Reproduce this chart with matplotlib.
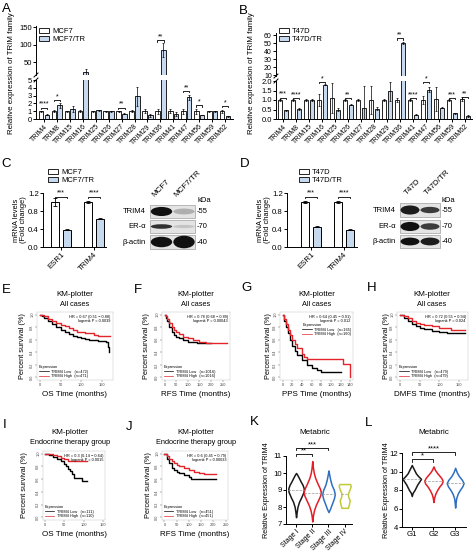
import numpy as np
import matplotlib.pyplot as plt
from matplotlib.patches import Rectangle, Ellipse, Patch
from matplotlib.lines import Line2D

plt.rcParams['font.family'] = ['Liberation Sans', 'DejaVu Sans']

W, H = 474, 555
TR_BLUE = '#c6d9ef'
KM_RED = '#e3242b'

# ============================= DATA
trim_genes = ["TRIM4", "TRIM8", "TRIM15", "TRIM16", "TRIM25", "TRIM26", "TRIM27",
              "TRIM28", "TRIM29", "TRIM36", "TRIM41", "TRIM47", "TRIM56", "TRIM59", "TRIM62"]

# A: MCF7 vs MCF7/TR
a_ctrl = [1.0, 1.0, 1.0, 1.0, 1.0, 1.0, 1.0, 1.0, 1.0, 1.0, 1.0, 1.0, 1.0, 1.0, 1.0]
a_ctrl_err = [0.08, 0.1, 0.05, 0.1, 0.05, 0.05, 0.05, 0.1, 0.25, 0.3, 0.25, 0.3, 0.3, 0.05, 0.2]
a_tr = [0.55, 1.75, 1.3, 21, 1.1, 1.0, 0.7, 2.9, 0.45, 85, 0.6, 2.8, 0.5, 1.0, 0.35]
a_tr_err = [0.05, 0.3, 0.4, 10, 0.1, 0.05, 0.05, 1.2, 0.15, 20, 0.25, 0.3, 0.05, 0.05, 0.05]
a_sig_lo = [(0, "****", 1.45), (1, "*", 2.4), (6, "**", 1.45), (11, "**", 3.55),
            (12, "*", 1.75), (14, "*", 1.65)]
a_sig_up = [(9, "**", 112)]

# B: T47D vs T47D/TR
b_ctrl = [1.0, 1.0, 1.0, 1.0, 1.1, 1.0, 1.0, 1.0, 1.0, 1.0, 1.0, 1.0, 1.05, 1.0, 1.05]
b_ctrl_err = [0.05, 0.03, 0.05, 0.3, 0.8, 0.05, 0.05, 0.75, 0.05, 0.1, 0.05, 0.2, 0.65, 0.05, 0.1]
b_tr = [0.45, 0.55, 1.0, 1.8, 0.5, 0.75, 0.6, 0.55, 1.45, 50, 0.22, 1.55, 0.6, 0.3, 0.15]
b_tr_err = [0.03, 0.05, 0.05, 0.03, 0.1, 0.02, 1.15, 0.1, 0.5, 1.5, 0.03, 0.15, 0.03, 0.03, 0.05]
b_sig_lo = [(0, "***", 1.12), (1, "****", 1.1), (3, "*", 1.95), (5, "**", 1.1),
            (10, "****", 1.1), (11, "*", 1.95), (13, "***", 1.1), (14, "**", 1.15)]
b_sig_up = [(9, "**", 56)]

# C / D: qPCR
mrna_genes = ["ESR1", "TRIM4"]
c_ctrl = [1.0, 1.0]
c_ctrl_err = [0.08, 0.02]
c_tr = [0.38, 0.63]
c_tr_err = [0.01, 0.01]
c_sig = ["***", "****"]
d_ctrl = [1.0, 1.0]
d_ctrl_err = [0.03, 0.02]
d_tr = [0.45, 0.38]
d_tr_err = [0.01, 0.01]
d_sig = ["***", "****"]

# western blots (rows: TRIM4, ER-a, b-actin ; lanes: parental, TR)
blot_rows = ["TRIM4", "ER-α", "β-actin"]
blot_kda = ["55", "70", "40"]
c_band_dark = [[1.0, 0.25], [0.85, 0.15], [1.0, 1.0]]
c_band_h = [[0.7, 0.45], [0.35, 0.25], [0.75, 0.9]]
d_band_dark = [[0.95, 0.8], [1.0, 0.8], [1.0, 0.95]]
d_band_h = [[0.65, 0.45], [0.7, 0.5], [0.6, 0.6]]

# KM curves (time in months, survival fraction)
e_low_t = [0, 5, 10, 20, 30, 40, 50, 60, 70, 80, 90, 100, 110, 120, 130, 140, 150, 160, 165, 168]
e_low_s = [1.0, 0.98, 0.95, 0.9, 0.85, 0.8, 0.76, 0.72, 0.69, 0.66, 0.64, 0.62, 0.61, 0.6, 0.59,
           0.58, 0.58, 0.57, 0.48, 0.4]
e_high_t = [0, 5, 10, 20, 30, 40, 50, 60, 70, 80, 90, 100, 110, 120, 130, 140, 160, 170]
e_high_s = [1.0, 0.99, 0.97, 0.93, 0.9, 0.87, 0.84, 0.81, 0.78, 0.75, 0.73, 0.72, 0.71, 0.7,
            0.67, 0.66, 0.66, 0.66]

f_low_t = [0, 5, 10, 20, 30, 40, 50, 60, 80, 100, 120, 140, 160, 200]
f_low_s = [1.0, 0.95, 0.9, 0.8, 0.73, 0.68, 0.65, 0.62, 0.59, 0.57, 0.56, 0.555, 0.55, 0.55]
f_high_t = [0, 5, 10, 20, 30, 40, 50, 60, 80, 100, 120, 150, 180, 220, 270]
f_high_s = [1.0, 0.97, 0.93, 0.86, 0.8, 0.76, 0.72, 0.69, 0.65, 0.62, 0.6, 0.57, 0.555, 0.55, 0.55]

g_low_t = [0, 3, 6, 10, 15, 20, 25, 30, 40, 50, 60, 70, 80, 100, 120]
g_low_s = [1.0, 0.9, 0.8, 0.7, 0.6, 0.5, 0.42, 0.35, 0.27, 0.2, 0.15, 0.12, 0.08, 0.08, 0.08]
g_high_t = [0, 3, 6, 10, 15, 20, 25, 30, 40, 45, 50, 120, 125, 138, 140]
g_high_s = [1.0, 0.93, 0.85, 0.76, 0.68, 0.6, 0.53, 0.47, 0.38, 0.33, 0.3, 0.3, 0.22, 0.22, 0.0]

h_low_t = [0, 10, 20, 30, 40, 50, 60, 80, 100, 120, 140, 165]
h_low_s = [1.0, 0.95, 0.9, 0.85, 0.82, 0.79, 0.77, 0.74, 0.72, 0.71, 0.7, 0.7]
h_high_t = [0, 10, 20, 30, 40, 50, 60, 80, 100, 120, 130, 150, 165]
h_high_s = [1.0, 0.97, 0.94, 0.9, 0.87, 0.85, 0.83, 0.81, 0.79, 0.78, 0.76, 0.75, 0.75]

i_low_t = [0, 10, 20, 30, 40, 50, 55, 60, 65, 70, 75, 90, 95, 110]
i_low_s = [1.0, 0.98, 0.95, 0.92, 0.88, 0.83, 0.8, 0.76, 0.72, 0.68, 0.62, 0.62, 0.57, 0.57]
i_high_t = [0, 20, 30, 40, 50, 60, 80, 100, 110]
i_high_s = [1.0, 0.98, 0.96, 0.93, 0.91, 0.89, 0.88, 0.88, 0.88]

j_low_t = [0, 10, 20, 30, 40, 50, 60, 80, 100, 110, 120, 150, 210]
j_low_s = [1.0, 0.92, 0.85, 0.78, 0.74, 0.71, 0.69, 0.66, 0.63, 0.6, 0.6, 0.6, 0.6]
j_high_t = [0, 10, 20, 30, 40, 50, 60, 80, 100, 120, 140, 160, 210]
j_high_s = [1.0, 0.96, 0.92, 0.88, 0.85, 0.82, 0.8, 0.77, 0.74, 0.71, 0.69, 0.68, 0.68]

# K / L violins (profile: y values and relative widths)
k_groups = ["Stage I", "Stage II", "Stage III", "Stage IV"]
k_coords = [[7.4, 7.7, 8.0, 8.3, 8.6, 8.9, 9.1, 9.3, 9.5, 9.7, 9.9, 10.0],
            [7.15, 7.5, 7.8, 8.1, 8.4, 8.7, 8.9, 9.1, 9.4, 9.7, 10.0, 10.3, 10.7],
            [7.7, 7.9, 8.2, 8.5, 8.75, 9.0, 9.3, 9.6, 9.9, 10.15],
            [7.95, 8.0, 8.2, 8.4, 8.6, 8.8, 9.0, 9.2, 9.3, 9.35]]
k_vals = [[0.0, 0.08, 0.18, 0.38, 0.7, 0.98, 1.0, 0.85, 0.6, 0.38, 0.15, 0.0],
          [0.0, 0.08, 0.2, 0.4, 0.68, 0.95, 1.0, 0.88, 0.6, 0.35, 0.18, 0.08, 0.0],
          [0.0, 0.25, 0.55, 0.85, 1.0, 0.85, 0.5, 0.28, 0.12, 0.0],
          [0.55, 0.6, 0.75, 0.85, 0.6, 0.55, 0.8, 1.0, 1.0, 0.9]]
k_medians = [9.0, 8.85, 8.75, 8.75]
k_sig = [(0, 1, "**", 11.1), (0, 2, "***", 11.45)]

l_groups = ["G1", "G2", "G3"]
l_coords = [[7.35, 7.7, 8.0, 8.3, 8.6, 8.9, 9.2, 9.5, 9.8, 10.1, 10.4, 10.7],
            [6.7, 7.2, 7.6, 8.0, 8.4, 8.7, 9.0, 9.3, 9.6, 9.9, 10.2, 10.55],
            [6.1, 6.6, 7.1, 7.6, 8.0, 8.4, 8.75, 9.1, 9.5, 9.9, 10.4]]
l_vals = [[0.0, 0.1, 0.3, 0.45, 0.6, 0.8, 1.0, 0.7, 0.45, 0.3, 0.15, 0.0],
          [0.0, 0.08, 0.2, 0.4, 0.65, 0.9, 1.0, 0.85, 0.6, 0.35, 0.15, 0.0],
          [0.0, 0.05, 0.12, 0.3, 0.55, 0.85, 1.0, 0.8, 0.45, 0.2, 0.0]]
l_medians = [9.2, 9.0, 8.75]
l_sig = [(0, 1, "*", 11.3), (0, 2, "****", 12.1)]

violin_colors = ['#1a1a1a', '#e41e26', '#2f6fc1', '#c2c93a']

# ============================= FIGURE
fig = plt.figure(figsize=(W / 100, H / 100), dpi=100)


def fx(x):
    return x / W


def fy(y):
    return 1 - y / H


def px_axes(x0, y0, x1, y1):
    return fig.add_axes([x0 / W, 1 - y1 / H, (x1 - x0) / W, (y1 - y0) / H])


def ftext(x, y, s, **kw):
    kw.setdefault('ha', 'center')
    kw.setdefault('va', 'center')
    return fig.text(fx(x), fy(y), s, **kw)


def prism_style(ax, fs=5.5):
    ax.spines['top'].set_visible(False)
    ax.spines['right'].set_visible(False)
    for s in ax.spines.values():
        s.set_linewidth(0.7)
    ax.tick_params(direction='out', length=2, width=0.7, labelsize=fs, pad=1)


def bracket(ax, x1, x2, y, text, h, fs=5.0):
    ax.plot([x1, x1, x2, x2], [y - h, y, y, y - h], color='black', lw=0.6, clip_on=False)
    ax.text((x1 + x2) / 2, y, text, ha='center', va='bottom', fontsize=fs, clip_on=False)


def slash(xp, yp):
    fig.add_artist(Line2D([fx(xp - 2), fx(xp + 2)], [fy(yp + 2), fy(yp - 2)],
                          transform=fig.transFigure, color='black', lw=0.7))


def bar_legend(labels, x, y, fs=5.5):
    handles = [Patch(facecolor='white', edgecolor='black', lw=0.6),
               Patch(facecolor=TR_BLUE, edgecolor='black', lw=0.6)]
    fig.legend(handles, labels, loc='upper left', bbox_to_anchor=(fx(x), fy(y)),
               bbox_transform=fig.transFigure, frameon=False, fontsize=fs,
               handlelength=1.3, handleheight=0.6, labelspacing=0.15, borderpad=0,
               handletextpad=0.4, borderaxespad=0)


def broken_bars(x0, x1, up_px, lo_px, up_lim, lo_lim, up_ticks, lo_ticks, lo_labels,
                ctrl, ctrl_err, tr, tr_err, sig_lo, sig_up, xlim, up_h, lo_h, up_fs=5.5):
    ax_up = px_axes(x0, up_px[0], x1, up_px[1])
    ax_lo = px_axes(x0, lo_px[0], x1, lo_px[1])
    x = np.arange(len(trim_genes))
    for ax in (ax_up, ax_lo):
        ax.bar(x - 0.22, ctrl, 0.36, yerr=ctrl_err, color='white', edgecolor='black',
               lw=0.6, error_kw=dict(lw=0.5, capsize=0.8, capthick=0.5))
        ax.bar(x + 0.22, tr, 0.36, yerr=tr_err, color=TR_BLUE, edgecolor='black',
               lw=0.6, error_kw=dict(lw=0.5, capsize=0.8, capthick=0.5))
        ax.set_xlim(xlim)
        prism_style(ax)
    ax_up.set_ylim(up_lim)
    ax_up.set_yticks(up_ticks)
    ax_up.tick_params(labelsize=up_fs)
    ax_up.spines['bottom'].set_visible(False)
    ax_up.set_xticks([])
    ax_lo.set_ylim(lo_lim)
    ax_lo.set_yticks(lo_ticks)
    ax_lo.set_yticklabels(lo_labels)
    ax_lo.set_xticks(x)
    ax_lo.set_xticklabels(trim_genes, rotation=45, ha='right', rotation_mode='anchor', fontsize=5)
    for i, s, y in sig_lo:
        bracket(ax_lo, i - 0.25, i + 0.25, y, s, lo_h)
    for i, s, y in sig_up:
        bracket(ax_up, i - 0.25, i + 0.25, y, s, up_h)
    slash(x0, up_px[1])
    slash(x0, lo_px[0])
    return ax_up, ax_lo


def mrna_bars(x0, x1, y0, y1, xlim, ctrl, ctrl_err, tr, tr_err, sig):
    ax = px_axes(x0, y0, x1, y1)
    x = np.arange(len(mrna_genes))
    ax.bar(x - 0.18, ctrl, 0.24, yerr=ctrl_err, color='white', edgecolor='black', lw=0.7,
           error_kw=dict(lw=0.6, capsize=1.2, capthick=0.6))
    ax.bar(x + 0.18, tr, 0.24, yerr=tr_err, color=TR_BLUE, edgecolor='black', lw=0.7,
           error_kw=dict(lw=0.6, capsize=1.2, capthick=0.6))
    ax.set_xlim(xlim)
    ax.set_ylim(0, 1.2)
    ax.set_yticks([0.0, 0.4, 0.8, 1.2])
    ax.set_yticklabels(["0.0", "0.4", "0.8", "1.2"])
    ax.set_xticks(x)
    ax.set_xticklabels(mrna_genes, rotation=45, ha='right', rotation_mode='anchor')
    prism_style(ax, fs=5.6)
    for i, s in enumerate(sig):
        bracket(ax, i - 0.18, i + 0.18, 1.12, s, 0.04, fs=5.0)
    return ax


def blot(x0, x1, rows, lanes, dark, bh, label_x, kda_x, kda_y, heads, head_x):
    ax = px_axes(x0 - 60, rows[0][0] - 40, x1 + 30, rows[-1][1] + 2)
    ax.set_xlim(x0 - 60, x1 + 30)
    ax.set_ylim(rows[-1][1] + 2, rows[0][0] - 40)
    ax.axis('off')
    for r, (ya, yb) in enumerate(rows):
        ax.add_patch(Rectangle((x0, ya), x1 - x0, yb - ya, facecolor='#e4e4e4',
                               edgecolor='#8a8a8a', lw=0.4))
        for k, lc in enumerate(lanes):
            hh = bh[r][k] * (yb - ya)
            ax.add_patch(Ellipse((lc, (ya + yb) / 2), (x1 - x0) / 2 * 0.95, hh,
                                 facecolor='#111111', alpha=dark[r][k], lw=0))
        ax.text(label_x, (ya + yb) / 2, blot_rows[r], ha='right', va='center', fontsize=5.5)
        ax.text(kda_x, (ya + yb) / 2, "-" + blot_kda[r], ha='left', va='center', fontsize=5.5)
    ax.text(kda_x, kda_y, "kDa", ha='left', va='center', fontsize=5.5)
    for name, hx in zip(heads, head_x):
        ax.text(hx, rows[0][0] - 7, name, rotation=45, ha='left', va='bottom',
                rotation_mode='anchor', fontsize=5.8)
    return ax


def km(box, t_low, s_low, t_high, s_high, xmax, xticks, hr, n_low, n_high, leg_top=False):
    ax = px_axes(*box)
    ax.step(t_low, s_low, where='post', color='black', lw=1.0)
    ax.step(t_high, s_high, where='post', color=KM_RED, lw=1.0)
    ax.set_xlim(-0.04 * xmax, 1.04 * xmax)
    ax.set_ylim(-0.04, 1.04)
    ax.set_xticks(xticks)
    ax.set_yticks([0, 0.2, 0.4, 0.6, 0.8, 1.0])
    ax.set_yticklabels(["0.0", "0.2", "0.4", "0.6", "0.8", "1.0"], rotation=90, va='center')
    ax.tick_params(labelsize=2.8, length=1.2, width=0.3, pad=0.8, colors='#444444')
    for s in ax.spines.values():
        s.set_linewidth(0.3)
        s.set_color('#c0c0c0')
    ax.text(0.97, 0.96, hr, transform=ax.transAxes, ha='right', va='top', fontsize=2.8,
            linespacing=1.1)
    handles = [Line2D([], [], color='black', lw=0.5), Line2D([], [], color=KM_RED, lw=0.5)]
    labels = ["TRIM4 Low   (n=%d)" % n_low, "TRIM4 High  (n=%d)" % n_high]
    if leg_top:
        loc, anchor = 'upper left', (0.3, 0.84)
    else:
        loc, anchor = 'lower left', (0.02, 0.02)
    ax.legend(handles, labels, title="Expression", loc=loc, bbox_to_anchor=anchor,
              fontsize=2.8, title_fontsize=2.8, alignment='left', frameon=False,
              handlelength=2.5, handletextpad=0.6, labelspacing=0.15, borderpad=0.1,
              borderaxespad=0)
    return ax


def violins(box, groups, coords, vals, medians, widths, xlim, ylim, yticks, sig, sig_h,
            rot):
    ax = px_axes(*box)
    stats = []
    for c, v, m in zip(coords, vals, medians):
        stats.append(dict(coords=np.array(c), vals=np.array(v), mean=m, median=m,
                          min=c[0], max=c[-1]))
    pos = np.arange(len(groups))
    parts = ax.violin(stats, positions=pos, widths=widths, showmeans=False,
                      showextrema=False, showmedians=False)
    for body, col in zip(parts['bodies'], violin_colors):
        body.set_facecolor('white')
        body.set_edgecolor(col)
        body.set_linewidth(1.1)
        body.set_alpha(1)
    for p, c, v, m, w in zip(pos, coords, vals, medians, widths):
        half = np.interp(m, c, v) / max(v) * 0.5 * w
        ax.plot([p - half, p + half], [m, m], color='#9a9a9a', lw=0.5, ls='--')
    ax.set_xlim(xlim)
    ax.set_ylim(ylim)
    ax.set_yticks(yticks)
    ax.set_xticks(pos)
    prism_style(ax, fs=5.6)
    if rot:
        ax.set_xticklabels(groups, rotation=45, ha='right', rotation_mode='anchor', fontsize=5.1)
    else:
        ax.set_xticklabels(groups)
    for a, b, s, y in sig:
        bracket(ax, a, b, y, s, sig_h, fs=5.5)
    return ax


# =============================  A
broken_bars(36, 233, (26, 75), (80, 119), (13, 153), (0, 5), [50, 100, 150],
            [0, 1, 2, 3, 4, 5], ["0", "1", "2", "3", "4", "5"],
            a_ctrl, a_ctrl_err, a_tr, a_tr_err, a_sig_lo, a_sig_up, (-0.62, 14.62), 5, 0.15)
bar_legend(["MCF7", "MCF7/TR"], 39, 28)
ftext(12, 73, "Relative expression of TRIM family", rotation=90, fontsize=5.7)
ftext(6, 9, "A", fontsize=9.5)

# =============================  B
broken_bars(276, 472, (33, 76), (81, 119), (9.1, 62.5), (0, 2.0),
            [10, 20, 30, 40, 50, 60],
            [0, 0.5, 1.0, 1.5, 2.0], ["0.0", "0.5", "1.0", "1.5", "2.0"],
            b_ctrl, b_ctrl_err, b_tr, b_tr_err, b_sig_lo, b_sig_up, (-0.54, 14.54), 2, 0.06,
            up_fs=5.0)
bar_legend(["T47D", "T47D/TR"], 279, 28)
ftext(252, 73, "Relative expression of TRIM family", rotation=90, fontsize=5.7)
ftext(243, 11, "B", fontsize=9.5)

# =============================  C / D
mrna_bars(43, 106, 193, 247, (-0.55, 1.36), c_ctrl, c_ctrl_err, c_tr, c_tr_err, c_sig)
bar_legend(["MCF7", "MCF7/TR"], 48, 169)
ftext(20, 220, "mRNA levels\n(Fold change)", rotation=90, fontsize=5.4, linespacing=1.0)
ftext(6, 164, "C", fontsize=9.5)
blot(150, 195, [(205, 218), (220, 233), (235, 249)], [161.5, 184], c_band_dark, c_band_h,
     146, 197, 200, ["MCF7", "MCF7/TR"], [156, 178])

mrna_bars(287, 357, 193, 247, (-0.73, 1.4), d_ctrl, d_ctrl_err, d_tr, d_tr_err, d_sig)
bar_legend(["T47D", "T47D/TR"], 299, 169)
ftext(264, 220, "mRNA levels\n(Fold change)", rotation=90, fontsize=5.4, linespacing=1.0)
ftext(245, 164, "D", fontsize=9.5)
blot(400, 440, [(203, 217), (220, 233), (235, 248)], [410, 430], d_band_dark, d_band_h,
     396, 442, 200, ["T47D", "T47D/TR"], [408, 428])

# =============================  KM plots
km_all = [
    ((37, 312, 113, 380), e_low_t, e_low_s, e_high_t, e_high_s, 170, [0, 50, 100, 150],
     "HR = 0.67 (0.51 − 0.88)\nlogrank P = 0.0039", 472, 471, False,
     "E", (6, 290), 75, 23, "OS Time (months)", "All cases"),
    ((162, 312, 230, 380), f_low_t, f_low_s, f_high_t, f_high_s, 270,
     [0, 50, 100, 150, 200, 250],
     "HR = 0.78 (0.68 − 0.89)\nlogrank P = 0.00043", 1016, 1016, False,
     "F", (138, 290), 196, 147, "RFS Time (months)", "All cases"),
    ((280, 312, 353, 380), g_low_t, g_low_s, g_high_t, g_high_s, 140,
     [0, 20, 40, 60, 80, 100, 120, 140],
     "HR = 0.64 (0.45 − 0.91)\nlogrank P = 0.012", 165, 160, True,
     "G", (247, 288), 317, 268, "PPS Time (months)", "All cases"),
    ((397, 312, 468, 380), h_low_t, h_low_s, h_high_t, h_high_s, 165, [0, 50, 100, 150],
     "HR = 0.72 (0.55 − 0.94)\nlogrank P = 0.024", 479, 479, False,
     "H", (372, 288), 432, 386, "DMFS Time (months)", "All cases"),
    ((43, 451, 105, 520), i_low_t, i_low_s, i_high_t, i_high_s, 150, [0, 50, 100, 150],
     "HR = 0.3 (0.14 − 0.64)\nlogrank P = 0.0015", 111, 110, False,
     "I", (5, 425), 70, 25, "OS Time (months)", "Endocrine therapy group"),
    ((162, 451, 228, 520), j_low_t, j_low_s, j_high_t, j_high_s, 250,
     [0, 50, 100, 150, 200, 250],
     "HR = 0.6 (0.45 − 0.79)\nlogrank P = 0.00033", 451, 451, False,
     "J", (129, 427), 196, 148, "RFS Time (months)", "Endocrine therapy group"),
]
for (box, tl, sl, th, sh, xmax, xt, hr, nl, nh, top, letter, lpos, cx, ylx, xlab,
     sub) in km_all:
    km(box, tl, sl, th, sh, xmax, xt, hr, nl, nh, top)
    ftext(lpos[0], lpos[1], letter, fontsize=9.5)
    ftext(cx, box[1] - 18, "KM-plotter", fontsize=5.8)
    ftext(cx, box[1] - 8, sub, fontsize=5.3)
    ftext((box[0] + box[2]) / 2, box[3] + 15, xlab, fontsize=5.8)
    ftext(ylx, (box[1] + box[3]) / 2, "Percent survival (%)", rotation=90, fontsize=5.3)

# =============================  K / L
violins((286, 456, 352, 524), k_groups, k_coords, k_vals, k_medians, [0.95, 1.05, 0.78, 0.72],
        (-0.62, 3.45), (7, 11), [7, 8, 9, 10, 11], k_sig, 0.12, True)
ftext(315, 433, "Metabric", fontsize=5.8)
ftext(266, 490, "Relative Expression of TRIM4", rotation=90, fontsize=5.2)
ftext(254, 422, "K", fontsize=9.5)

violins((402, 453, 466, 527), l_groups, l_coords, l_vals, l_medians, [0.85, 0.85, 0.78],
        (-0.45, 2.5), (4, 12), [4, 6, 8, 10, 12], l_sig, 0.3, False)
ftext(434, 433, "Metabric", fontsize=5.8)
ftext(386, 490, "Relative Expression of TRIM4", rotation=90, fontsize=5.2)
ftext(369, 423, "L", fontsize=9.5)

fig.savefig("out.png", dpi=100)
